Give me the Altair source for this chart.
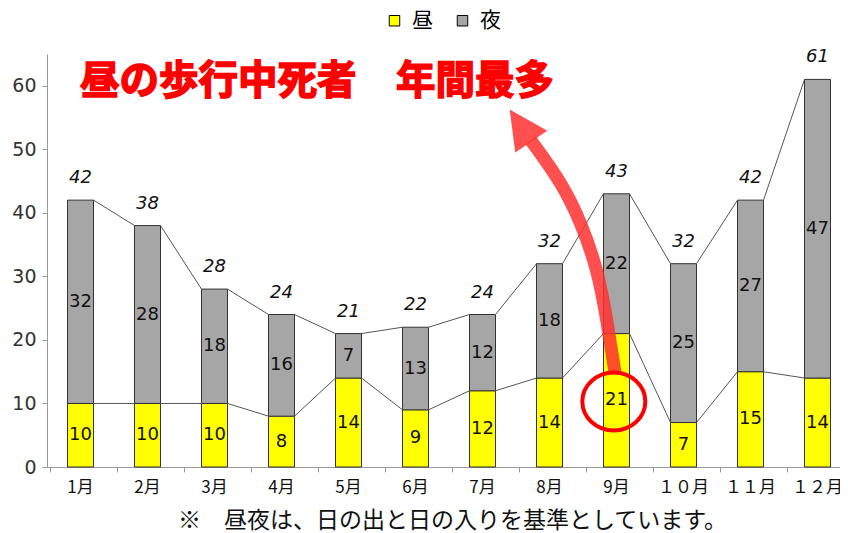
import altair as alt
import pandas as pd

months = ["1月", "2月", "3月", "4月", "5月", "6月", "7月", "8月", "9月", "１０月", "１１月", "１２月"]
day = [10, 10, 10, 8, 14, 9, 12, 14, 21, 7, 15, 14]
night = [32, 28, 18, 16, 7, 13, 12, 18, 22, 25, 27, 47]
total = [42, 38, 28, 24, 21, 22, 24, 32, 43, 32, 42, 61]

series = ["昼", "夜"]
colors = ["#FFFF00", "#A6A6A6"]

annotation = "昼の歩行中死者　年間最多"
footnote = "※　昼夜は、日の出と日の入りを基準としています。"

# annotation geometry in data units (x: band units 0..12, y: count)
note_x = [4.03]
note_y = [60.6]
arrow_x = [8.48, 8.36, 8.21, 7.96, 7.66, 7.36, 7.22]
arrow_y = [14.8, 22.7, 30.6, 38.4, 44.7, 49.4, 51.4]
head_x = [7.12]
head_y = [52.9]
ring_x = [8.46]
ring_y = [10.3]

FONT_JP = "Noto Sans CJK JP"
FONT_NUM = "DejaVu Sans"
XR = [0, 804]

bars = pd.DataFrame(
    [{"month": m, "series": "昼", "value": d, "ord": 0, "mid": d / 2} for m, d in zip(months, day)]
    + [{"month": m, "series": "夜", "value": n, "ord": 1, "mid": d + n / 2} for m, d, n in zip(months, day, night)]
)
tot = pd.DataFrame({"month": months, "total": total})
segs = pd.DataFrame(
    [{"m1": months[i], "m2": months[i + 1], "v1": day[i], "v2": day[i + 1]} for i in range(11)]
    + [{"m1": months[i], "m2": months[i + 1], "v1": total[i], "v2": total[i + 1]} for i in range(11)]
)
arrow = pd.DataFrame({"x": arrow_x, "y": arrow_y, "i": list(range(len(arrow_x)))})
head = pd.DataFrame({"x": head_x, "y": head_y})
ring = pd.DataFrame({"x": ring_x, "y": ring_y})
note = pd.DataFrame({"x": note_x, "y": note_y, "t": [annotation]})

yscale = alt.Scale(domain=[0, 65], nice=False)
xband = alt.Scale(domain=months, range=XR)
xq = alt.Scale(domain=[0, 12], range=XR)

X = alt.X(
    "month:N",
    sort=months,
    scale=xband,
    axis=alt.Axis(
        title=footnote,
        titleFont=FONT_JP,
        titleFontSize=23,
        titleFontWeight="normal",
        titleColor="#111",
        titleX=405,
        titleY=53,
        titleBaseline="middle",
        titleAlign="center",
        labelAngle=0,
        labelFont=FONT_JP,
        labelFontSize=17,
        labelColor="#111",
        labelPadding=7,
        bandPosition=0,
        tickSize=5,
        tickColor="#999",
        domainColor="#999",
        grid=False,
    ),
)

bar = alt.Chart(bars).mark_bar(size=26, stroke="#333", strokeWidth=1).encode(
    x=X,
    y=alt.Y(
        "value:Q",
        stack="zero",
        scale=yscale,
        axis=alt.Axis(
            values=[0, 10, 20, 30, 40, 50, 60],
            title=None,
            grid=False,
            tickSize=5,
            tickColor="#999",
            domainColor="#999",
            labelFont=FONT_NUM,
            labelFontSize=19,
            labelColor="#333",
            labelPadding=6,
        ),
    ),
    color=alt.Color(
        "series:N",
        scale=alt.Scale(domain=series, range=colors),
        legend=alt.Legend(
            title=None,
            orient="none",
            legendX=337,
            legendY=-44,
            direction="horizontal",
            symbolType="square",
            symbolSize=110,
            symbolStrokeColor="#000",
            symbolStrokeWidth=1,
            labelFont=FONT_JP,
            labelFontSize=21,
            labelColor="#000",
            labelOffset=7,
            columnPadding=19,
        ),
    ),
    order=alt.Order("ord:Q"),
)

lines = alt.Chart(segs).mark_rule(color="#555", strokeWidth=1, xOffset=13, x2Offset=-13).encode(
    x=alt.X("m1:N", sort=months, scale=xband),
    x2="m2:N",
    y=alt.Y("v1:Q", scale=yscale),
    y2="v2:Q",
)

inner = alt.Chart(bars).mark_text(font=FONT_NUM, fontSize=18, color="#111", baseline="middle").encode(
    x=alt.X("month:N", sort=months, scale=xband),
    y=alt.Y("mid:Q", scale=yscale),
    text="value:Q",
)

tops = alt.Chart(tot).mark_text(
    font=FONT_NUM, fontSize=18, fontStyle="italic", color="#111", baseline="middle", dy=-22
).encode(
    x=alt.X("month:N", sort=months, scale=xband),
    y=alt.Y("total:Q", scale=yscale),
    text="total:Q",
)

base_layer = alt.layer(bar, lines, inner, tops)

shaft = alt.Chart(arrow).mark_line(
    color="#FF3030", opacity=0.85, strokeWidth=13, interpolate="natural", strokeCap="butt"
).encode(
    x=alt.X("x:Q", scale=xq, axis=None),
    y=alt.Y("y:Q", scale=yscale),
    order="i:Q",
)

tri = alt.Chart(head).mark_point(
    shape="M 0 -1.33 L 1 0.67 L -1 0.67 Z",
    size=1490,
    angle=326,
    filled=True,
    color="#FF3030",
    opacity=0.85,
    strokeWidth=0,
).encode(
    x=alt.X("x:Q", scale=xq, axis=None),
    y=alt.Y("y:Q", scale=yscale),
)

circ = alt.Chart(ring).mark_point(
    shape="M -1 0 A 1 0.92 0 1 1 1 0 A 1 0.92 0 1 1 -1 0 Z",
    size=3969,
    filled=False,
    stroke="#FF0000",
    strokeWidth=4,
    opacity=1,
).encode(
    x=alt.X("x:Q", scale=xq, axis=None),
    y=alt.Y("y:Q", scale=yscale),
)

txt = alt.Chart(note).mark_text(
    font=FONT_JP, fontSize=39.5, fontWeight="bold", color="#FF0000",
    stroke="#FF0000", strokeWidth=1.6, baseline="middle", align="center"
).encode(
    x=alt.X("x:Q", scale=xq, axis=None),
    y=alt.Y("y:Q", scale=yscale),
    text="t:N",
)

deco = alt.layer(shaft, tri, circ, txt)

chart = (
    alt.layer(base_layer, deco)
    .resolve_scale(x="independent")
    .properties(
        width=793,
        height=413,
        autosize=alt.AutoSizeParams(type="none"),
        padding={"left": 39, "top": 46, "right": 0, "bottom": 66},
    )
    .configure_view(stroke=None)
)

chart.save("out.html", embed_options={"renderer": "svg", "actions": False})
